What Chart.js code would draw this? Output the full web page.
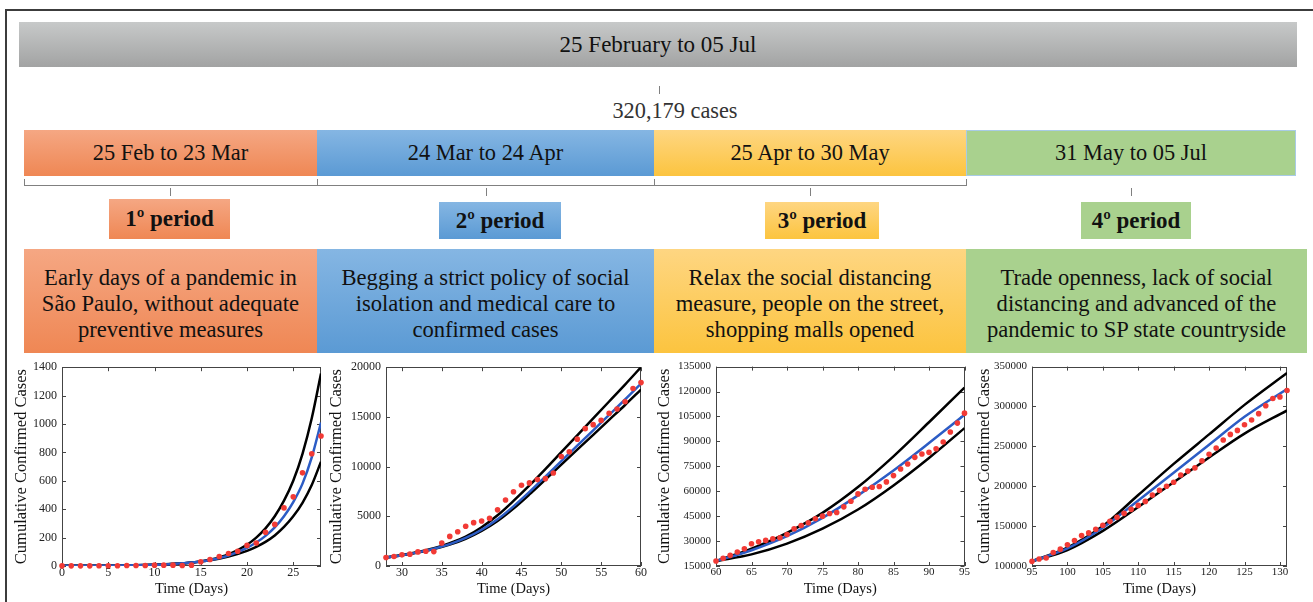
<!DOCTYPE html>
<html>
<head>
<meta charset="utf-8">
<script src="https://cdn.jsdelivr.net/npm/chart.js@4/dist/chart.umd.min.js"></script>
<style>
  body{margin:0;width:1313px;height:602px;overflow:hidden;background:#fff;position:relative;
       font-family:"Liberation Serif","Times New Roman",serif;color:#111}
  .abs{position:absolute}
  .frame{left:5px;top:9px;width:1400px;height:700px;border-top:2px solid #3c3c3c;border-left:2px solid #3c3c3c}
  .banner{left:19px;top:22px;width:1278px;height:45px;background:linear-gradient(#c7c9c9,#a2a3a3);
          display:flex;align-items:center;justify-content:center;font-size:23px}
  .total{left:560px;top:98px;width:230px;text-align:center;font-size:22.3px;color:#333}
  .bar{top:130px;height:46px;display:flex;align-items:center;justify-content:center;font-size:22.4px}
  .tag{display:flex;align-items:center;justify-content:center;font-weight:bold;font-size:23px}
  .desc{top:249px;height:104px;box-sizing:border-box;padding-top:5px;display:flex;align-items:center;
        justify-content:center;text-align:center;font-size:22.6px;line-height:26px}
  .ln{background:#808080}
  .c-or{background:linear-gradient(#f5a783,#ef8754)}
  .c-bl{background:linear-gradient(#85b6e3,#5b9ad4)}
  .c-ye{background:linear-gradient(#fed682,#fcc43f)}
  .c-gr{background:#a9d18e}
  .chart{position:absolute;top:355px;height:247px}
</style>
</head>
<body>
<div class="abs frame"></div>
<div class="abs banner">25 February to 05 Jul</div>
<div class="abs ln" style="left:659px;top:86px;width:1px;height:8px"></div>
<div class="abs total">320,179 cases</div>

<div class="abs bar c-or" style="left:24px;width:293px">25 Feb to 23 Mar</div>
<div class="abs bar c-bl" style="left:317px;width:337px">24 Mar to 24 Apr</div>
<div class="abs bar c-ye" style="left:654px;width:312px">25 Apr to 30 May</div>
<div class="abs bar c-gr" style="left:966px;width:330px;box-shadow:inset 0 0 0 1px #a8cbe6">31 May to 05 Jul</div>

<!-- brackets under the date bars -->
<div class="abs ln" style="left:24px;top:185px;width:942px;height:1px"></div>
<div class="abs ln" style="left:24px;top:179px;width:1px;height:7px"></div>
<div class="abs ln" style="left:317px;top:179px;width:1px;height:7px"></div>
<div class="abs ln" style="left:654px;top:179px;width:1px;height:7px"></div>
<div class="abs ln" style="left:966px;top:179px;width:1px;height:7px"></div>
<div class="abs ln" style="left:170px;top:188px;width:1px;height:8px"></div>
<div class="abs ln" style="left:486px;top:188px;width:1px;height:8px"></div>
<div class="abs ln" style="left:810px;top:188px;width:1px;height:8px"></div>
<div class="abs ln" style="left:1131px;top:188px;width:1px;height:8px"></div>

<div class="abs tag c-or" style="left:109px;top:199px;width:121px;height:40px">1º period</div>
<div class="abs tag c-bl" style="left:439px;top:202px;width:122px;height:37px">2º period</div>
<div class="abs tag c-ye" style="left:765px;top:202px;width:114px;height:37px">3º period</div>
<div class="abs tag c-gr" style="left:1081px;top:202px;width:110px;height:37px">4º period</div>

<div class="abs desc c-or" style="left:24px;width:293px">Early days of a pandemic in<br>São Paulo, without adequate<br>preventive measures</div>
<div class="abs desc c-bl" style="left:317px;width:337px">Begging a strict policy of social<br>isolation and medical care to<br>confirmed cases</div>
<div class="abs desc c-ye" style="left:654px;width:312px">Relax the social distancing<br>measure, people on the street,<br>shopping malls opened</div>
<div class="abs desc c-gr" style="left:966px;width:341px">Trade openness, lack of social<br>distancing and advanced of the<br>pandemic to SP state countryside</div>

<div class="chart" style="left:8px;width:317px"><canvas id="c1"></canvas></div>
<div class="chart" style="left:325px;width:325px"><canvas id="c2"></canvas></div>
<div class="chart" style="left:652px;width:318px"><canvas id="c3"></canvas></div>
<div class="chart" style="left:970px;width:343px"><canvas id="c4"></canvas></div>

<script>
// ---- 1st period (days 0-28): observed cumulative cases and model curves ----
const p1Days  = [0,1,2,3,4,5,6,7,8,9,10,11,12,13,14,15,16,17,18,19,20,21,22,23,24,25,26,27,28];
const p1Cases = [1,1,1,1,2,2,2,3,3,4,6,6,6,3,6,30,46,67,88,104,145,162,238,293,409,487,656,790,915];
const p1CurveDays = [0,4,8,10,12,14,16,18,20,21,22,23,24,25,26,27,28];
const p1Upper = [1,2,5,9,15,25,45,82,150,200,265,350,460,600,790,1040,1355];
const p1Model = [1,2,5,8,14,24,42,74,128,165,212,272,350,450,580,765,1010];
const p1Lower = [1,2,5,8,14,23,40,67,107,135,170,215,275,350,445,570,735];

// ---- 2nd period (days 28-60) ----
const p2Days  = [28,29,30,31,32,33,34,35,36,37,38,39,40,41,42,43,44,45,46,47,48,49,50,51,52,53,54,55,56,57,58,59,60];
const p2Cases = [860,960,1120,1190,1420,1490,1450,2310,2980,3440,4000,4360,4530,4790,5650,6640,7470,8130,8360,8690,8790,9350,11010,11500,12760,13820,14220,14650,15370,15800,16530,17850,18450];
const p2CurveDays = [28,30,32,34,36,38,40,42,44,46,48,50,52,54,56,58,60];
const p2Upper = [860,1100,1400,1780,2300,2950,3900,5100,6550,8100,9750,11450,13150,14850,16550,18250,20000];
const p2Model = [860,1080,1370,1730,2200,2820,3650,4700,6000,7450,9000,10550,12100,13650,15200,16750,18350];
const p2Lower = [860,1070,1350,1700,2150,2740,3530,4530,5780,7200,8700,10200,11700,13200,14700,16200,17750];

// ---- 3rd period (days 60-95) ----
const p3Days  = [60,61,62,63,64,65,66,67,68,69,70,71,72,73,74,75,76,77,78,79,80,81,82,83,84,85,86,87,88,89,90,91,92,93,94,95];
const p3Cases = [18000,19600,21400,23400,25400,28400,29600,30400,31400,32000,34000,37400,39400,41000,43400,45000,46600,47200,50600,54000,58400,61200,62400,62800,65600,69400,73400,76400,80400,82400,83400,85600,89600,95600,101000,107000];
const p3CurveDays = [60,65,70,75,80,85,90,95];
const p3Upper = [18000,25500,35000,47000,62500,81000,101500,122400];
const p3Model = [18000,24500,33000,44000,57500,72500,89000,106000];
const p3Lower = [18000,22000,28500,37500,49000,63500,80000,98000];

// ---- 4th period (days 95-131) ----
const p4Days  = [95,96,97,98,99,100,101,102,103,104,105,106,107,108,109,110,111,112,113,114,115,116,117,118,119,120,121,122,123,124,125,126,127,128,129,130,131];
const p4Cases = [105800,108700,110000,117000,121100,126500,131900,138100,141500,146000,151000,156000,161000,166000,171000,176000,181000,189000,195000,200000,205000,214000,219000,223000,232000,240000,248000,258000,265000,270000,277000,283000,291000,301000,310000,312000,320000];
const p4CurveDays = [95,100,105,110,115,120,125,131];
const p4Upper = [106000,123000,150000,189000,228000,265000,302000,342000];
const p4Model = [106000,122000,148000,182000,217000,252000,287000,322000];
const p4Lower = [106000,120000,144000,174000,205000,236000,266000,295000];

// Plot frame with small inward tick marks
const framePlugin = {
  id: 'frame',
  beforeDatasetsDraw(chart) {
    const {ctx, chartArea: a, scales: {x, y}} = chart;
    ctx.save();
    ctx.strokeStyle = '#444';
    ctx.lineWidth = 1;
    ctx.strokeRect(Math.round(a.left) + 0.5, Math.round(a.top) + 0.5,
                   Math.round(a.right - a.left) - 1, Math.round(a.bottom - a.top) - 1);
    ctx.beginPath();
    x.ticks.forEach(t => {
      const px = Math.round(x.getPixelForValue(t.value)) + 0.5;
      ctx.moveTo(px, a.bottom); ctx.lineTo(px, a.bottom - 4);
      ctx.moveTo(px, a.top); ctx.lineTo(px, a.top + 4);
    });
    y.ticks.forEach(t => {
      const py = Math.round(y.getPixelForValue(t.value)) + 0.5;
      ctx.moveTo(a.left, py); ctx.lineTo(a.left + 4, py);
      ctx.moveTo(a.right, py); ctx.lineTo(a.right - 4, py);
    });
    ctx.stroke();
    ctx.restore();
  }
};

const serif = '"Liberation Serif","Times New Roman",serif';
const pairs = (xs, ys) => xs.map((v, i) => ({x: v, y: ys[i]}));

function drawPeriod(id, o) {
  const curve = (data, color, order) => ({
    type: 'line', data, borderColor: color, borderWidth: 2.5, pointRadius: 0,
    cubicInterpolationMode: 'monotone', fill: false, order
  });
  new Chart(document.getElementById(id), {
    type: 'line',
    data: {
      datasets: [
        {type: 'line', data: pairs(o.days, o.cases), showLine: false, pointRadius: 2.8,
         pointBackgroundColor: '#f23a35', pointBorderWidth: 0, clip: false, order: 0},
        curve(pairs(o.curveDays, o.model), '#2c5cc5', 1),
        curve(pairs(o.curveDays, o.upper), '#000', 2),
        curve(pairs(o.curveDays, o.lower), '#000', 2)
      ]
    },
    options: {
      responsive: true, maintainAspectRatio: false, animation: false,
      layout: {padding: {top: 10, right: o.padRight, left: 0, bottom: 0}},
      plugins: {legend: {display: false}, tooltip: {enabled: false}},
      scales: {
        x: {
          type: 'linear', min: o.xMin, max: o.xMax,
          grid: {display: false, drawTicks: false}, border: {display: false},
          afterFit: s => { s.height = 36; },
          ticks: {stepSize: 5, includeBounds: false, padding: 0, color: '#222',
                  font: {family: serif, size: o.tickSize}},
          title: {display: true, text: 'Time (Days)', color: '#111',
                  font: {family: serif, size: 14.5}, padding: {top: 0, bottom: 4}}
        },
        y: {
          type: 'linear', min: o.yMin, max: o.yMax,
          grid: {display: false, drawTicks: false}, border: {display: false},
          afterFit: s => { s.width = o.yWidth; },
          ticks: {stepSize: o.yStep, includeBounds: false, padding: 5, color: '#222',
                  font: {family: serif, size: o.tickSize}, callback: v => String(v)},
          title: {display: true, text: 'Cumulative Confirmed Cases', color: '#111',
                  font: {family: serif, size: 16.5}, padding: {top: o.titlePad, bottom: 0}}
        }
      }
    },
    plugins: [framePlugin]
  });
}

drawPeriod('c1', {days: p1Days, cases: p1Cases, curveDays: p1CurveDays, upper: p1Upper, model: p1Model, lower: p1Lower,
  xMin: 0, xMax: 28, yMin: 0, yMax: 1400, yStep: 200, yWidth: 54, titlePad: 4, padRight: 2, tickSize: 12});
drawPeriod('c2', {days: p2Days, cases: p2Cases, curveDays: p2CurveDays, upper: p2Upper, model: p2Model, lower: p2Lower,
  xMin: 28, xMax: 60, yMin: 0, yMax: 20000, yStep: 5000, yWidth: 61, titlePad: 2, padRight: 9, tickSize: 12});
drawPeriod('c3', {days: p3Days, cases: p3Cases, curveDays: p3CurveDays, upper: p3Upper, model: p3Model, lower: p3Lower,
  xMin: 60, xMax: 95, yMin: 15000, yMax: 135000, yStep: 15000, yWidth: 64, titlePad: 3, padRight: 3, tickSize: 11});
drawPeriod('c4', {days: p4Days, cases: p4Cases, curveDays: p4CurveDays, upper: p4Upper, model: p4Model, lower: p4Lower,
  xMin: 95, xMax: 131, yMin: 100000, yMax: 350000, yStep: 50000, yWidth: 62, titlePad: 5, padRight: 26, tickSize: 11});
</script>
</body>
</html>
